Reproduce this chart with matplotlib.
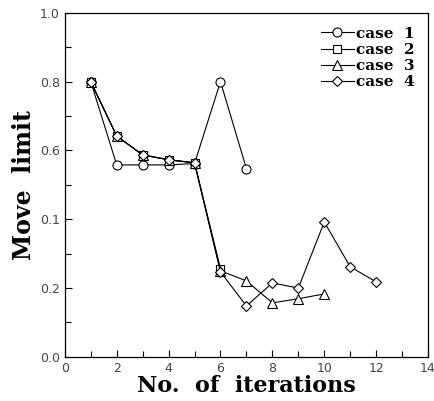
import matplotlib
matplotlib.use("Agg")
import matplotlib.pyplot as plt
from matplotlib.ticker import MultipleLocator

# data
it1 = [1, 2, 3, 4, 5, 6, 7]
case1 = [0.80, 0.558, 0.558, 0.558, 0.562, 0.80, 0.547]
it2 = [1, 2, 3, 4, 5, 6]
case2 = [0.80, 0.642, 0.587, 0.573, 0.564, 0.256]
it3 = [1, 2, 3, 4, 5, 6, 7, 8, 9, 10]
case3 = [0.80, 0.642, 0.587, 0.573, 0.564, 0.250, 0.221, 0.157, 0.169, 0.183]
it4 = [1, 2, 3, 4, 5, 6, 7, 8, 9, 10, 11, 12]
case4 = [0.80, 0.642, 0.587, 0.573, 0.564, 0.247, 0.148, 0.215, 0.200, 0.392, 0.262, 0.218]
ytick_vals = [0.0, 0.2, 0.4, 0.6, 0.8, 1.0]
ytick_text = ['0.0', '0.2', '0.1', '0.6', '0.8', '1.0']

fig = plt.figure(figsize=(4.35, 4.01), dpi=100)
ax = fig.add_axes([0.149, 0.110, 0.835, 0.858])

kw = dict(color='black', lw=0.8, mfc='white', mec='black', mew=0.8)
ax.plot(it1, case1, marker='o', ms=6.5, label='case  1', **kw)
ax.plot(it2, case2, marker='s', ms=6, label='case  2', **kw)
ax.plot(it3, case3, marker='^', ms=7, label='case  3', **kw)
ax.plot(it4, case4, marker='D', ms=5, label='case  4', **kw)

ax.set_xlim(0, 14)
ax.set_ylim(0, 1.0)
ax.xaxis.set_major_locator(MultipleLocator(2))
ax.xaxis.set_minor_locator(MultipleLocator(1))
ax.set_yticks(ytick_vals)
ax.set_yticklabels(ytick_text)
ax.yaxis.set_minor_locator(MultipleLocator(0.1))
ax.tick_params(which='both', direction='in', labelsize=9, width=0.8, colors='black')
ax.tick_params(which='major', length=5)
ax.tick_params(which='minor', length=4)
for lab in ax.get_xticklabels() + ax.get_yticklabels():
    lab.set_color('#444444')
for s in ax.spines.values():
    s.set_linewidth(0.9)

ax.set_xlabel('No.  of  iterations', family='DejaVu Serif', fontsize=16,
              fontweight='bold', labelpad=0)
ax.set_ylabel('Move  limit', family='DejaVu Serif', fontsize=17,
              fontweight='bold', labelpad=3)

ax.legend(loc='upper right', frameon=False, handlelength=2.2, handletextpad=0.1,
          labelspacing=0.15, borderaxespad=0.5,
          prop=dict(family='DejaVu Serif', weight='bold', size=11))

fig.savefig('out.png', dpi=100)
